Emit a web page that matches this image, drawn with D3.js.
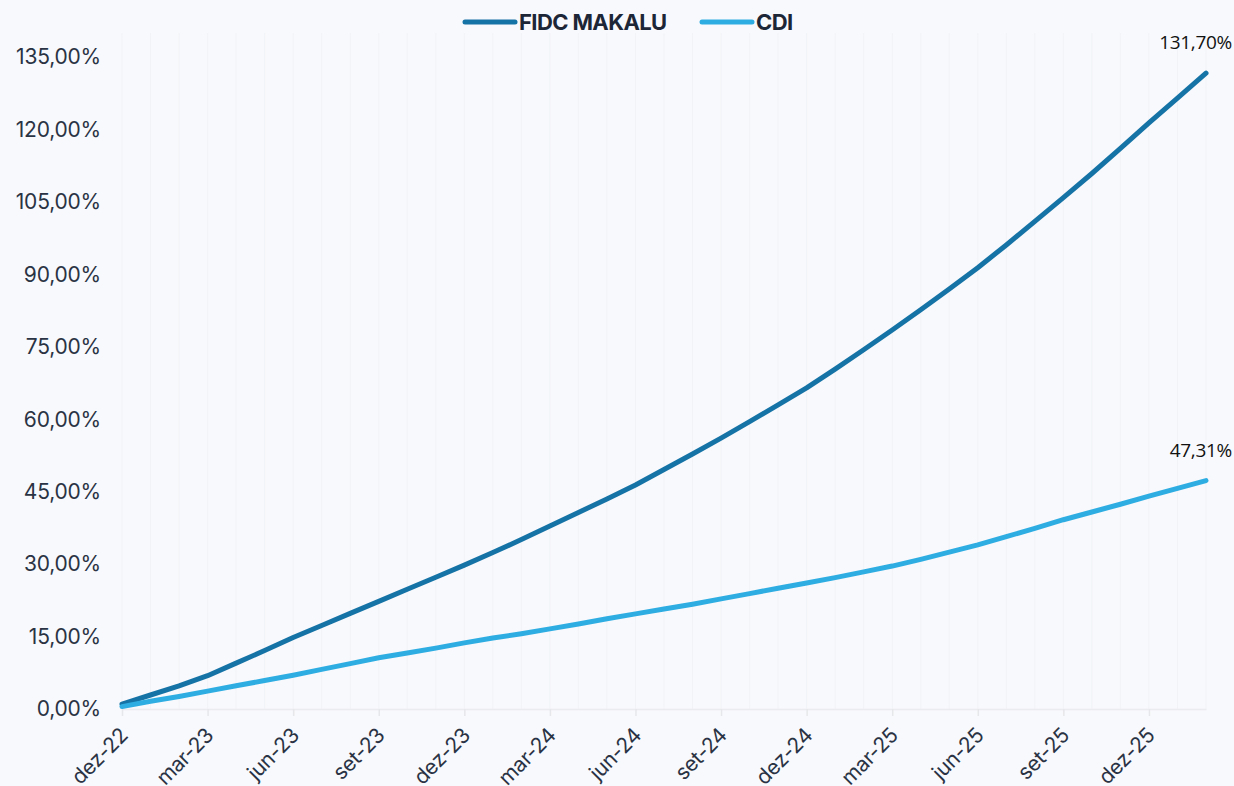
<!DOCTYPE html>
<html>
<head>
<meta charset="utf-8">
<script src="https://cdn.jsdelivr.net/npm/d3@7"></script>
<style>
  html, body { margin: 0; padding: 0; background: #f8f9fc; }
  svg { display: block; }
</style>
</head>
<body>
<div id="chart"></div>
<script>
// months, dez-22 .. fev-26
const months = ['dez-22', 'jan-23', 'fev-23', 'mar-23', 'abr-23', 'mai-23', 'jun-23', 'jul-23', 'ago-23', 'set-23', 'out-23', 'nov-23',
  'dez-23', 'jan-24', 'fev-24', 'mar-24', 'abr-24', 'mai-24', 'jun-24', 'jul-24', 'ago-24', 'set-24', 'out-24', 'nov-24',
  'dez-24', 'jan-25', 'fev-25', 'mar-25', 'abr-25', 'mai-25', 'jun-25', 'jul-25', 'ago-25', 'set-25', 'out-25', 'nov-25',
  'dez-25', 'jan-26', 'fev-26']

const fidcMakalu = [1.0, 2.9, 4.8, 6.9, 9.5, 12.1, 14.8, 17.3, 19.8, 22.3, 24.8, 27.3,
  29.8, 32.4, 35.1, 37.9, 40.7, 43.5, 46.4, 49.6, 52.8, 56.1, 59.5, 63.0,
  66.5, 70.4, 74.4, 78.5, 82.7, 87.0, 91.4, 96.1, 101.0, 105.9, 110.9, 116.1,
  121.4, 126.5, 131.7]

const cdi = [0.5, 1.6, 2.6, 3.7, 4.8, 5.9, 7.0, 8.2, 9.4, 10.6, 11.6, 12.6,
  13.7, 14.7, 15.6, 16.6, 17.6, 18.7, 19.7, 20.7, 21.7, 22.8, 23.9, 25.0,
  26.1, 27.2, 28.4, 29.6, 31.0, 32.5, 34.0, 35.7, 37.4, 39.2, 40.8, 42.4,
  44.1, 45.7, 47.31]

const tickLabels = ['dez-22', 'mar-23', 'jun-23', 'set-23', 'dez-23', 'mar-24', 'jun-24',
  'set-24', 'dez-24', 'mar-25', 'jun-25', 'set-25', 'dez-25']
const yTicks = [0, 15, 30, 45, 60, 75, 90, 105, 120, 135]

const seriesNames = ['FIDC MAKALU', 'CDI']
const seriesColors = ['#1673a6', '#2eade2']

const width = 1234
const height = 786
const margin = { top: 33, right: 28, bottom: 77, left: 122 }

const svg = d3.select('#chart').append('svg')
  .attr('width', width)
  .attr('height', height)

svg.append('rect')
  .attr('width', width)
  .attr('height', height)
  .style('fill', '#f8f9fc')

const x = d3.scalePoint()
  .domain(months)
  .range([margin.left, width - margin.right])

const y = d3.scaleLinear()
  .domain([0, 140])
  .range([height - margin.bottom, margin.top])

const fmt = v => d3.format('.2f')(v).replace('.', ',') + '%'

// faint monthly gridlines
svg.append('g')
  .selectAll('line')
  .data(months)
  .join('line')
    .attr('x1', d => x(d))
    .attr('x2', d => x(d))
    .attr('y1', y(140))
    .attr('y2', y(0))
    .style('stroke', '#f1f3f7')
    .style('stroke-width', 1)

// x axis
const xAxis = svg.append('g')
  .attr('transform', `translate(0,${y(0)})`)
  .call(d3.axisBottom(x).tickValues(tickLabels).tickSize(7).tickSizeOuter(0))

xAxis.select('.domain').style('stroke', '#ebecef').style('stroke-width', 1.5)
xAxis.selectAll('.tick line').style('stroke', '#e6e7ea').style('stroke-width', 1.5)
xAxis.selectAll('.tick text')
  .attr('x', 0)
  .attr('y', 0)
  .attr('transform', 'translate(-4,17) rotate(-45)')
  .attr('text-anchor', 'end')
  .attr('dy', '0.72em')
  .style('font-family', 'Inter, sans-serif')
  .style('font-size', '21px')
  .style('letter-spacing', '-0.3px')
  .style('fill', '#2a3344')

// y axis
const yAxis = svg.append('g')
  .attr('transform', `translate(${margin.left},0)`)
  .call(d3.axisLeft(y).tickValues(yTicks).tickSize(0).tickPadding(21).tickFormat(fmt))

yAxis.select('.domain').remove()
yAxis.selectAll('.tick text')
  .style('font-family', 'Inter, sans-serif')
  .style('font-size', '21px')
  .style('letter-spacing', '-0.2px')
  .style('fill', '#2a3344')

// lines
const seriesData = [fidcMakalu, cdi]
const line = d3.line()
  .x((d, i) => x(months[i]))
  .y(d => y(d))

svg.append('g')
  .selectAll('path')
  .data(seriesData)
  .join('path')
    .attr('d', line)
    .style('fill', 'none')
    .style('stroke', (d, i) => seriesColors[i])
    .style('stroke-width', 5)
    .style('stroke-linecap', 'round')
    .style('stroke-linejoin', 'round')

// end labels
svg.append('g')
  .selectAll('text')
  .data(seriesData)
  .join('text')
    .attr('x', x(months[months.length - 1]) + 26)
    .attr('y', d => y(d[d.length - 1]) - 24)
    .attr('text-anchor', 'end')
    .style('font-family', '"Open Sans", sans-serif')
    .style('font-size', '19px')
    .style('letter-spacing', '-0.3px')
    .style('fill', '#111')
    .text(d => fmt(d[d.length - 1]))

// legend
const legend = svg.append('g')
  .attr('transform', 'translate(463,22)')

const legendOffsets = [0, 237]
const items = legend.selectAll('g')
  .data(seriesNames)
  .join('g')
    .attr('transform', (d, i) => `translate(${legendOffsets[i]},0)`)

items.append('line')
  .attr('x1', 2)
  .attr('x2', 52)
  .style('stroke', (d, i) => seriesColors[i])
  .style('stroke-width', 5)
  .style('stroke-linecap', 'round')

items.append('text')
  .attr('x', 56)
  .attr('dy', '0.36em')
  .style('font-family', 'Inter, sans-serif')
  .style('font-weight', '700')
  .style('font-size', '22px')
  .style('letter-spacing', '-0.6px')
  .style('fill', '#1c2636')
  .text(d => d)
</script>
</body>
</html>
